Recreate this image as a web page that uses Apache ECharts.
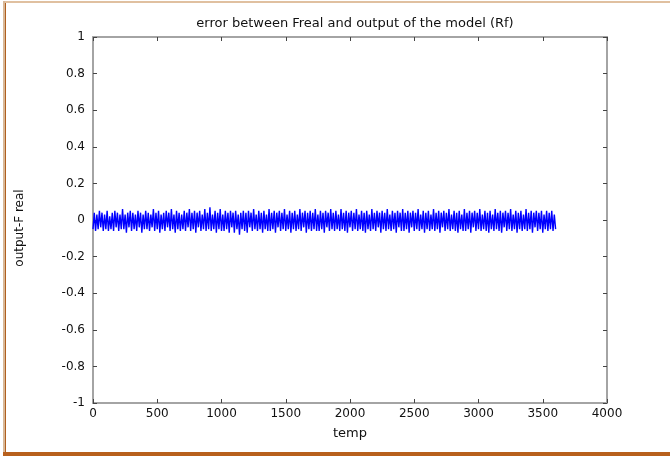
<!DOCTYPE html>
<html>
<head>
<meta charset="utf-8">
<script src="https://cdn.jsdelivr.net/npm/echarts@6/dist/echarts.min.js"></script>
<style>
html,body{margin:0;padding:0;background:#fff;}
#c{width:670px;height:456px;}
</style>
</head>
<body>
<div id="c"></div>
<script>
const chartTitle = 'error between Freal and output of the model (Rf)';
const xName = 'temp';
const yName = 'output-F real';
const xTicks = [0, 500, 1000, 1500, 2000, 2500, 3000, 3500, 4000];
const yTicks = [-1, -0.8, -0.6, -0.4, -0.2, 0, 0.2, 0.4, 0.6, 0.8, 1];
const sampleStep = 10; // time units between samples
const errorValues = [
-0.05,0.04,-0.06,0.03,-0.05,0.05,-0.04,0.04,-0.06,0.03,-0.05,0.05,-0.06,0.02,-0.05,0.04,-0.06,0.05,-0.04,
0.04,-0.06,0.03,-0.05,0.06,-0.05,0.03,-0.07,0.04,-0.04,0.05,-0.06,0.04,-0.05,0.03,-0.06,0.05,-0.04,0.04,
-0.07,0.03,-0.05,0.05,-0.05,0.04,-0.06,0.03,-0.04,0.06,-0.06,0.04,-0.05,0.05,-0.07,0.03,-0.05,0.04,-0.06,
0.05,-0.04,0.04,-0.06,0.06,-0.05,0.03,-0.07,0.05,-0.05,0.04,-0.06,0.03,-0.05,0.05,-0.06,0.04,-0.04,0.06,
-0.06,0.04,-0.05,0.05,-0.07,0.04,-0.04,0.05,-0.06,0.03,-0.05,0.06,-0.06,0.04,-0.05,0.07,-0.06,0.03,-0.05,
0.05,-0.07,0.04,-0.05,0.06,-0.06,0.03,-0.06,0.05,-0.05,0.04,-0.07,0.05,-0.04,0.04,-0.07,0.05,-0.05,0.03,
-0.08,0.04,-0.05,0.05,-0.06,0.04,-0.07,0.05,-0.04,0.04,-0.06,0.06,-0.05,0.03,-0.06,0.05,-0.05,0.04,-0.07,
0.05,-0.05,0.03,-0.06,0.06,-0.06,0.04,-0.05,0.05,-0.07,0.04,-0.04,0.05,-0.06,0.04,-0.05,0.06,-0.06,0.03,
-0.05,0.05,-0.07,0.04,-0.05,0.05,-0.06,0.03,-0.05,0.06,-0.06,0.04,-0.04,0.05,-0.07,0.04,-0.05,0.05,-0.06,
0.04,-0.05,0.06,-0.06,0.03,-0.06,0.05,-0.05,0.04,-0.07,0.05,-0.04,0.04,-0.06,0.06,-0.05,0.04,-0.06,0.05,
-0.05,0.03,-0.06,0.06,-0.05,0.04,-0.06,0.05,-0.07,0.04,-0.04,0.05,-0.06,0.04,-0.05,0.06,-0.06,0.03,-0.05,
0.05,-0.06,0.04,-0.07,0.05,-0.05,0.03,-0.06,0.06,-0.05,0.04,-0.06,0.05,-0.04,0.04,-0.07,0.05,-0.05,0.04,
-0.06,0.06,-0.05,0.03,-0.06,0.05,-0.05,0.04,-0.07,0.05,-0.04,0.04,-0.06,0.06,-0.06,0.04,-0.05,0.05,-0.07,
0.04,-0.04,0.05,-0.06,0.04,-0.05,0.06,-0.06,0.03,-0.05,0.05,-0.07,0.04,-0.05,0.05,-0.06,0.03,-0.05,0.06,
-0.06,0.04,-0.05,0.05,-0.07,0.04,-0.04,0.05,-0.06,0.04,-0.05,0.06,-0.06,0.03,-0.05,0.05,-0.06,0.04,-0.07,
0.05,-0.05,0.03,-0.06,0.06,-0.06,0.04,-0.05,0.05,-0.07,0.04,-0.04,0.05,-0.06,0.04,-0.05,0.06,-0.06,0.03,
-0.05,0.05,-0.06,0.04,-0.07,0.05,-0.05,0.03,-0.06,0.06,-0.05,0.04,-0.06,0.05,-0.07,0.04,-0.04,0.05,-0.06,
0.04,-0.05,0.06,-0.06,0.03,-0.05,0.05,-0.07,0.04,-0.05,0.05,-0.06,0.03,-0.05,0.06,-0.06,0.04,-0.05,0.05,
-0.07,0.04,-0.04,0.05,-0.06,0.04,-0.05,0.05,-0.07,0.03,-0.05,0.05,-0.06,0.04,-0.05,0.05,-0.06,0.03,-0.05
];

const seriesData = errorValues.map((v, i) => [i * sampleStep, v]);
const FONT = 'DejaVu Sans';
const chart = echarts.init(document.getElementById('c'), null, {renderer: 'canvas'});

const xMin = xTicks[0], xMax = xTicks[xTicks.length - 1];
const yMin = yTicks[0], yMax = yTicks[yTicks.length - 1];
const xInt = xTicks[1] - xTicks[0];
const yInt = 0.2;

function tickStyle() {
  return {show: true, inside: true, length: 4, lineStyle: {color: '#444', width: 1}};
}
function lineStyle() {
  return {show: true, onZero: false, lineStyle: {color: '#a4a4a4', width: 2}};
}
const labelStyle = {color: '#111', fontFamily: FONT, fontSize: 12};

chart.setOption({
  animation: false,
  backgroundColor: '#fff',
  title: {
    text: chartTitle, left: 350, top: 12, textAlign: 'center',
    textStyle: {fontFamily: FONT, fontSize: 13, fontWeight: 'normal', color: '#111'}
  },
  grid: {left: 93, right: 63, top: 37, bottom: 53, show: false},
  xAxis: [{
    type: 'value', min: xMin, max: xMax, interval: xInt,
    name: xName, nameLocation: 'middle', nameGap: 24,
    nameTextStyle: {fontFamily: FONT, fontSize: 13, color: '#111'},
    axisLine: lineStyle(), axisTick: tickStyle(),
    axisLabel: Object.assign({margin: 5, formatter: v => String(v)}, labelStyle),
    splitLine: {show: false}
  }, {
    type: 'value', min: xMin, max: xMax, interval: xInt, position: 'top',
    axisLine: lineStyle(), axisTick: tickStyle(), axisLabel: {show: false}, splitLine: {show: false}
  }],
  yAxis: [{
    type: 'value', min: yMin, max: yMax, interval: yInt,
    name: yName, nameLocation: 'middle', nameGap: 67,
    nameTextStyle: {fontFamily: FONT, fontSize: 12, color: '#111', padding: [0, 16, 0, 0]},
    axisLine: lineStyle(), axisTick: tickStyle(),
    axisLabel: Object.assign({margin: 8, formatter: v => String(Math.round(v * 10) / 10)}, labelStyle),
    splitLine: {show: false}
  }, {
    type: 'value', min: yMin, max: yMax, interval: yInt, position: 'right',
    axisLine: lineStyle(), axisTick: tickStyle(), axisLabel: {show: false}, splitLine: {show: false}
  }],
  series: [{
    type: 'line', data: seriesData, xAxisIndex: 0, yAxisIndex: 0,
    showSymbol: false, symbol: 'none',
    lineStyle: {color: '#0000ff', width: 1.4},
    itemStyle: {color: '#0000ff'}
  }],
  graphic: [
    {type: 'rect', shape: {x: 3, y: 1, width: 667, height: 2}, style: {fill: '#e0c0a0'}, silent: true},
    {type: 'rect', shape: {x: 3, y: 1, width: 2, height: 453}, style: {fill: '#d8b898'}, silent: true},
    {type: 'rect', shape: {x: 5, y: 3, width: 1, height: 450}, style: {fill: '#b06020'}, silent: true},
    {type: 'rect', shape: {x: 3, y: 452, width: 667, height: 4}, style: {fill: '#b8601c'}, silent: true}
  ]
});
</script>
</body>
</html>
